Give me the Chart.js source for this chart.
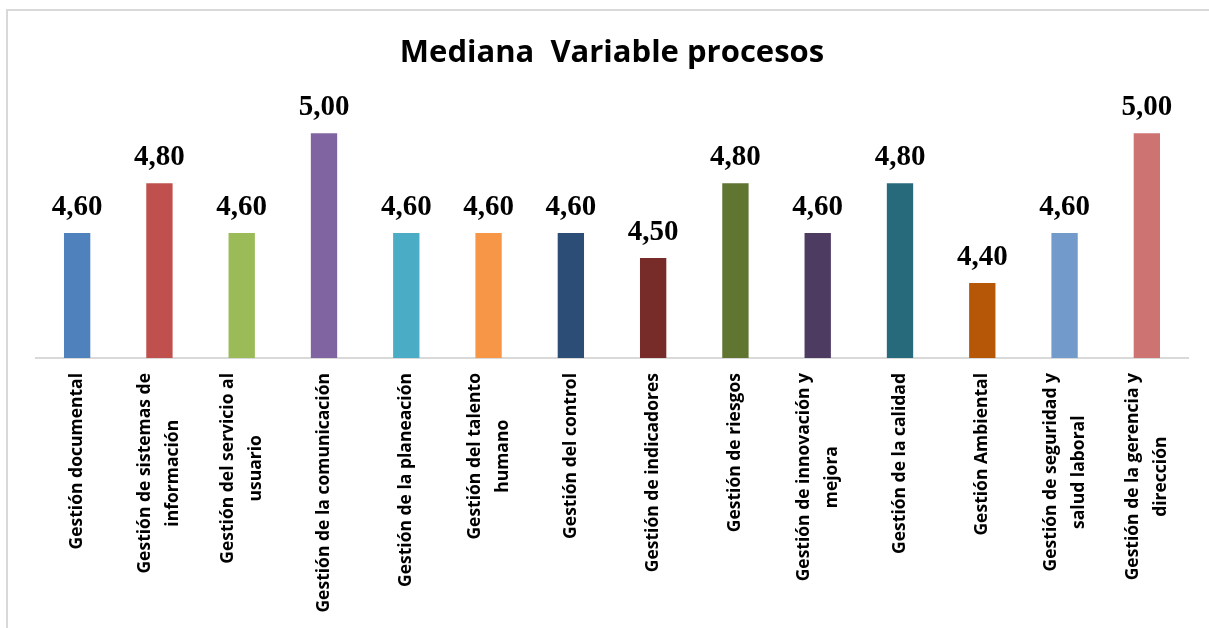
<!DOCTYPE html>
<html lang="es">
<head>
<meta charset="utf-8">
<title>Mediana Variable procesos</title>
<script src="https://cdn.jsdelivr.net/npm/chart.js@4/dist/chart.umd.min.js"></script>
<style>
  html, body { margin: 0; padding: 0; background: #fff; overflow: hidden; }
  #wrap { position: relative; width: 1209px; height: 628px; }
  #frame {
    position: absolute; left: 6px; top: 9px; width: 1230px; height: 650px;
    border: 2px solid #d9d9d9; box-sizing: border-box;
  }
  canvas { position: absolute; left: 0; top: 0; }
</style>
</head>
<body>
<div id="wrap">
  <div id="frame"></div>
  <canvas id="chart" width="1209" height="628"></canvas>
</div>
<script>
// categories, one entry per line of the rotated label
const categories = [
  ["Gestión documental"],
  ["Gestión de sistemas de", "información"],
  ["Gestión del servicio al", "usuario"],
  ["Gestión de la comunicación"],
  ["Gestión de la planeación"],
  ["Gestión del talento", "humano"],
  ["Gestión del control"],
  ["Gestión de indicadores"],
  ["Gestión de riesgos"],
  ["Gestión de innovación y", "mejora"],
  ["Gestión de la calidad"],
  ["Gestión Ambiental"],
  ["Gestión de seguridad y", "salud laboral"],
  ["Gestión de la gerencia y", "dirección"],
];

const medians = [4.6, 4.8, 4.6, 5.0, 4.6, 4.6, 4.6, 4.5, 4.8, 4.6, 4.8, 4.4, 4.6, 5.0];

const barColors = [
  "#4f81bd", "#c0504d", "#9bbb59", "#8064a2", "#4bacc6", "#f79646", "#2c4d75",
  "#772c2a", "#5f7530", "#4d3b62", "#276a7c", "#b65708", "#729aca", "#cd7371",
];

const yMin = 4.1;
const yMax = 5.2;

/** Value labels above each bar, Excel style "4,60". */
const valueLabels = {
  id: "valueLabels",
  afterDatasetsDraw(chart) {
    const { ctx } = chart;
    const meta = chart.getDatasetMeta(0);
    ctx.save();
    ctx.font = "bold 29px 'Liberation Serif', serif";
    ctx.fillStyle = "#000";
    ctx.textAlign = "center";
    ctx.textBaseline = "alphabetic";
    meta.data.forEach((bar, i) => {
      ctx.fillText(medians[i].toFixed(2).replace(".", ","), bar.x, bar.y - 18);
    });
    ctx.restore();
  },
};

/** Rotated category labels, lines centred on each other and hung from the axis. */
const catLabels = {
  id: "catLabels",
  afterDraw(chart) {
    const { ctx } = chart;
    const xs = chart.scales.x;
    const top = chart.chartArea.bottom + 15;
    const lineGap = 28;
    ctx.save();
    ctx.font = "bold 17.5px 'Open Sans', sans-serif";
    ctx.fillStyle = "#000";
    ctx.textAlign = "center";
    ctx.textBaseline = "middle";
    categories.forEach((lines, i) => {
      const x = xs.getPixelForValue(i);
      const w = Math.max(...lines.map((l) => ctx.measureText(l).width));
      ctx.save();
      ctx.translate(x, top);
      ctx.rotate(-Math.PI / 2);
      lines.forEach((l, j) => {
        ctx.fillText(l, -w / 2, (j - (lines.length - 1) / 2) * lineGap);
      });
      ctx.restore();
    });
    ctx.restore();
  },
};

new Chart(document.getElementById("chart"), {
  type: "bar",
  data: {
    labels: categories.map((c) => c.join(" ")),
    datasets: [
      {
        data: medians,
        backgroundColor: barColors,
        barPercentage: 0.32,
        categoryPercentage: 1,
      },
    ],
  },
  options: {
    responsive: false,
    animation: false,
    layout: { padding: { top: 20, left: 36, right: 21, bottom: 262 } },
    scales: {
      x: {
        grid: { display: false },
        border: { display: true, color: "#d9d9d9", width: 2 },
        ticks: { display: false },
      },
      y: { display: false, min: yMin, max: yMax },
    },
    plugins: {
      legend: { display: false },
      tooltip: { enabled: false },
      title: {
        display: true,
        text: "Mediana  Variable procesos",
        color: "#000",
        font: { family: "'Open Sans', sans-serif", size: 31, weight: "bold", lineHeight: 1.2 },
        padding: { top: 15, bottom: 11 },
      },
    },
  },
  plugins: [valueLabels, catLabels],
});
</script>
</body>
</html>
